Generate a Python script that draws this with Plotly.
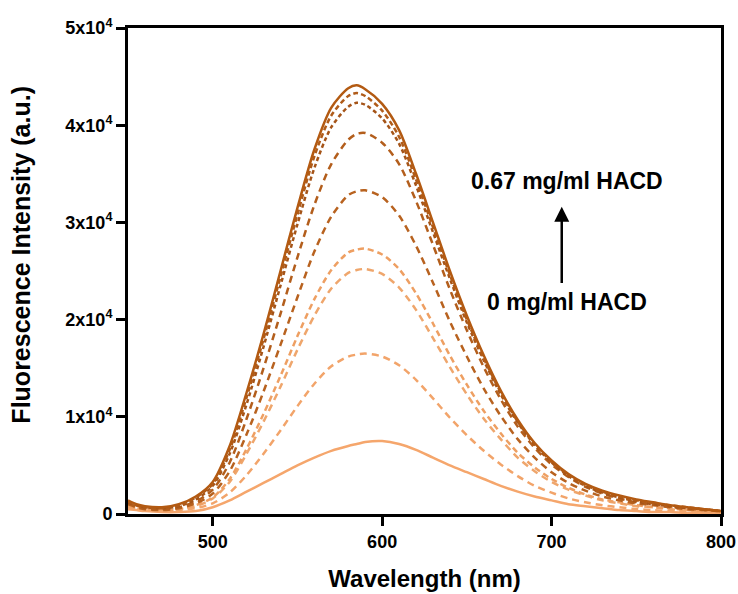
import plotly.graph_objects as go

wavelength = [450, 455, 460, 470, 480, 490, 500, 510, 520, 530, 540, 550, 560, 570, 580, 585, 590,
              600, 610, 620, 630, 640, 650, 660, 670, 680, 690, 700, 710, 720, 730, 740, 750, 760,
              770, 780, 790, 800]

# intensities in units of 1e4 (a.u.), from 0 mg/ml (lowest) to 0.67 mg/ml HACD (highest)
c0 = [0.05, 0.04, 0.03, 0.02, 0.02, 0.03, 0.07, 0.14, 0.23, 0.32, 0.41, 0.50, 0.58, 0.65, 0.70, 0.72, 0.74,
      0.75, 0.72, 0.66, 0.58, 0.50, 0.43, 0.36, 0.29, 0.23, 0.18, 0.14, 0.10, 0.08, 0.06, 0.04, 0.03, 0.02,
      0.02, 0.01, 0.01, 0.01]
c1 = [0.07, 0.05, 0.04, 0.03, 0.04, 0.06, 0.11, 0.22, 0.40, 0.62, 0.86, 1.11, 1.34, 1.52, 1.62, 1.64, 1.65,
      1.62, 1.53, 1.38, 1.19, 0.99, 0.81, 0.65, 0.51, 0.39, 0.29, 0.22, 0.16, 0.12, 0.09, 0.07, 0.05, 0.04,
      0.03, 0.03, 0.02, 0.02]
c2 = [0.08, 0.06, 0.05, 0.04, 0.05, 0.08, 0.16, 0.33, 0.62, 0.95, 1.31, 1.69, 2.04, 2.32, 2.48, 2.51, 2.52,
      2.47, 2.33, 2.10, 1.81, 1.51, 1.23, 0.98, 0.77, 0.58, 0.44, 0.33, 0.25, 0.19, 0.14, 0.11, 0.08, 0.07,
      0.05, 0.04, 0.03, 0.02]
c3 = [0.09, 0.06, 0.05, 0.04, 0.05, 0.09, 0.17, 0.36, 0.67, 1.03, 1.42, 1.83, 2.21, 2.51, 2.69, 2.72, 2.73,
      2.67, 2.52, 2.27, 1.96, 1.63, 1.33, 1.06, 0.83, 0.63, 0.48, 0.36, 0.27, 0.20, 0.15, 0.12, 0.09, 0.07,
      0.06, 0.04, 0.03, 0.02]
c4 = [0.10, 0.07, 0.05, 0.04, 0.06, 0.11, 0.21, 0.44, 0.82, 1.26, 1.74, 2.23, 2.70, 3.06, 3.28, 3.32, 3.33,
      3.26, 3.07, 2.76, 2.38, 1.98, 1.62, 1.29, 1.01, 0.77, 0.58, 0.43, 0.32, 0.24, 0.18, 0.14, 0.11, 0.09,
      0.07, 0.05, 0.04, 0.03]
c5 = [0.11, 0.08, 0.06, 0.05, 0.07, 0.13, 0.25, 0.53, 0.98, 1.50, 2.06, 2.64, 3.18, 3.60, 3.85, 3.91, 3.92,
      3.82, 3.60, 3.22, 2.77, 2.31, 1.89, 1.51, 1.18, 0.90, 0.68, 0.51, 0.38, 0.28, 0.21, 0.16, 0.12, 0.10,
      0.08, 0.06, 0.04, 0.03]
c6 = [0.12, 0.09, 0.07, 0.06, 0.08, 0.15, 0.29, 0.62, 1.13, 1.72, 2.35, 2.98, 3.56, 3.98, 4.19, 4.23, 4.21,
      4.07, 3.81, 3.38, 2.90, 2.42, 1.97, 1.58, 1.23, 0.94, 0.71, 0.53, 0.39, 0.29, 0.22, 0.17, 0.13, 0.10,
      0.08, 0.06, 0.05, 0.03]
c7 = [0.13, 0.09, 0.07, 0.06, 0.09, 0.17, 0.31, 0.66, 1.20, 1.80, 2.44, 3.08, 3.68, 4.10, 4.30, 4.33, 4.30,
      4.15, 3.88, 3.44, 2.95, 2.46, 2.00, 1.60, 1.25, 0.95, 0.72, 0.54, 0.40, 0.30, 0.23, 0.18, 0.14, 0.11,
      0.09, 0.07, 0.05, 0.03]
c8 = [0.14, 0.10, 0.08, 0.07, 0.10, 0.18, 0.33, 0.70, 1.25, 1.85, 2.50, 3.15, 3.75, 4.18, 4.38, 4.41, 4.37,
      4.22, 3.95, 3.50, 3.00, 2.50, 2.04, 1.63, 1.27, 0.97, 0.73, 0.55, 0.41, 0.31, 0.24, 0.19, 0.15, 0.12,
      0.09, 0.07, 0.05, 0.03]

series = [c0, c1, c2, c3, c4, c5, c6, c7, c8]
colors = ["#F5A66C", "#F2A46A", "#EFA66C", "#EE9F62", "#B8621F", "#B35E1C", "#A55418", "#B05C1A", "#B35A12"]
dashes = ["solid", "7px,5px", "7px,5px", "6px,4px", "7px,5px", "7px,5px", "4px,3px", "5px,3px", "solid"]

y_ticks = [0, 1e4, 2e4, 3e4, 4e4, 5e4]
y_ticktext = ["0", "1x10<sup>4</sup>", "2x10<sup>4</sup>", "3x10<sup>4</sup>", "4x10<sup>4</sup>", "5x10<sup>4</sup>"]
x_ticks = [500, 600, 700, 800]

fig = go.Figure()
for vals, col, dsh in zip(series, colors, dashes):
    fig.add_trace(go.Scatter(
        x=wavelength, y=[v * 1e4 for v in vals], mode="lines",
        line=dict(color=col, width=2.5, dash=dsh, shape="spline", smoothing=0.8),
        showlegend=False, hoverinfo="skip"))

font_main = "Liberation Sans, Arial, sans-serif"

fig.add_annotation(x=706, y=3.16e4, ax=706, ay=2.36e4, xref="x", yref="y", axref="x", ayref="y",
                   text="", showarrow=True, arrowhead=2, arrowsize=1.2, arrowwidth=2.5, arrowcolor="black")
fig.add_annotation(x=709, y=3.43e4, xref="x", yref="y", text="<b>0.67 mg/ml HACD</b>", showarrow=False,
                   font=dict(family=font_main, size=23, color="black"))
fig.add_annotation(x=709, y=2.18e4, xref="x", yref="y", text="<b>0 mg/ml HACD</b>", showarrow=False,
                   font=dict(family=font_main, size=23, color="black"))
# y-axis title (placed as annotation to match the reference's vertical offset)
fig.add_annotation(x=-0.181, y=0.533, xref="paper", yref="paper", xanchor="center", yanchor="middle",
                   text="<b>Fluorescence Intensity (a.u.)</b>", textangle=-90, showarrow=False,
                   font=dict(family=font_main, size=25, color="black"))

fig.update_layout(
    width=738, height=594,
    margin=dict(l=128, r=17, t=28, b=80),
    paper_bgcolor="white", plot_bgcolor="white",
    font=dict(family=font_main, color="black"),
    xaxis=dict(range=[450, 800], tickvals=x_ticks, ticks="outside", ticklen=9, tickwidth=2.5,
               tickcolor="black", showline=True, linewidth=3, linecolor="black", mirror=True,
               showgrid=False, zeroline=False, automargin=False,
               tickfont=dict(family=font_main, size=18, color="black", weight="bold"),
               title=dict(text="<b>Wavelength (nm)</b>", font=dict(family=font_main, size=24, color="black"),
                          standoff=20)),
    yaxis=dict(range=[0, 5e4], tickvals=y_ticks, ticktext=y_ticktext, ticks="outside", ticklen=9,
               tickwidth=2.5, tickcolor="black", showline=True, linewidth=3, linecolor="black", mirror=True,
               showgrid=False, zeroline=False, automargin=False,
               tickfont=dict(family=font_main, size=18, color="black", weight="bold")),
)

fig.write_html("out.html", config={"displayModeBar": False},
               post_script="document.body.style.margin='0';")
